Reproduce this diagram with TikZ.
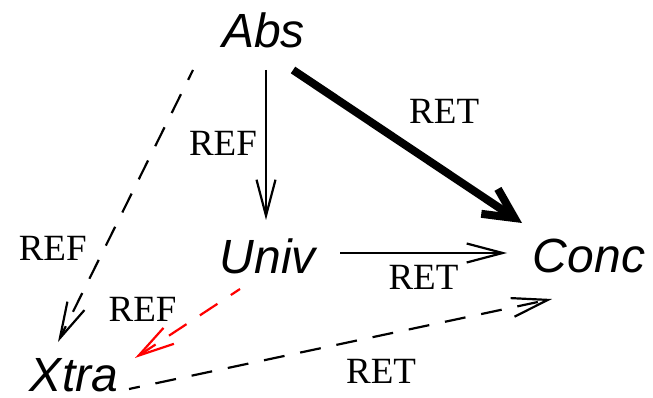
\documentclass[tikz,border=0pt]{standalone}
\usepackage{fontspec}
\setmainfont{Liberation Serif}
\newfontfamily\specfont{Liberation Sans}
\usetikzlibrary{arrows.meta}

\begin{document}
\begin{tikzpicture}[
        x=1pt, y=-1pt,
        spec/.style={inner sep=0pt, font=\specfont\itshape\fontsize{48}{50}\selectfont},
        lbl/.style={inner sep=0pt, text height=25pt, text depth=0pt, font=\fontsize{37}{40}\selectfont},
        arrow/.style={-{Straight Barb[length=36pt, width=19pt, sharp]}, line width=2.2pt},
        bigarrow/.style={-{Straight Barb[length=30pt, width=30pt, sharp]}, line width=8pt},
        dashline/.style={dash pattern=on 21pt off 16pt, dash phase=10pt}
    ]
\useasboundingbox (0, 0) rectangle (653, 398);

\node[spec] (abs) at (263.5, 30.5) {Abs};
        \node[spec] (univ) at (268, 256) {Univ};
        \node[spec] (conc) at (589, 256) {Conc};
        \node[spec] (xtra) at (74, 375) {Xtra};

\draw[arrow] ([shift={(2.5,39.5)}]abs.center) -- node[lbl, pos=0.487, left=8pt] {REF} ([shift={(-2,-36)}]univ.center);
        \draw[bigarrow] ([shift={(29.5,39.5)}]abs.center) -- node[lbl, pos=0.49, anchor=south west, yshift=17pt] {RET} ([shift={(-67,-33)}]conc.center);
        \draw[arrow, dashline] ([shift={(-70.5,39.5)}]abs.center) -- node[lbl, pos=0.654, left=17pt] {REF} ([shift={(-16,-33)}]xtra.center);
        \draw[arrow] ([shift={(72,-3)}]univ.center) -- node[lbl, midway, below=10pt] {RET} ([shift={(-82,-3)}]conc.center);
        \draw[arrow, dashline, red] ([shift={(-28,33)}]univ.center) -- node[lbl, pos=0.48, anchor=south east, xshift=-12pt, text=black] {REF} ([shift={(61,-17)}]xtra.center);
        \draw[arrow, dashline] ([shift={(55,14)}]xtra.center) -- node[lbl, pos=0.596, below=22pt] {RET} ([shift={(-37,43)}]conc.center);

    \end{tikzpicture}
\end{document}
